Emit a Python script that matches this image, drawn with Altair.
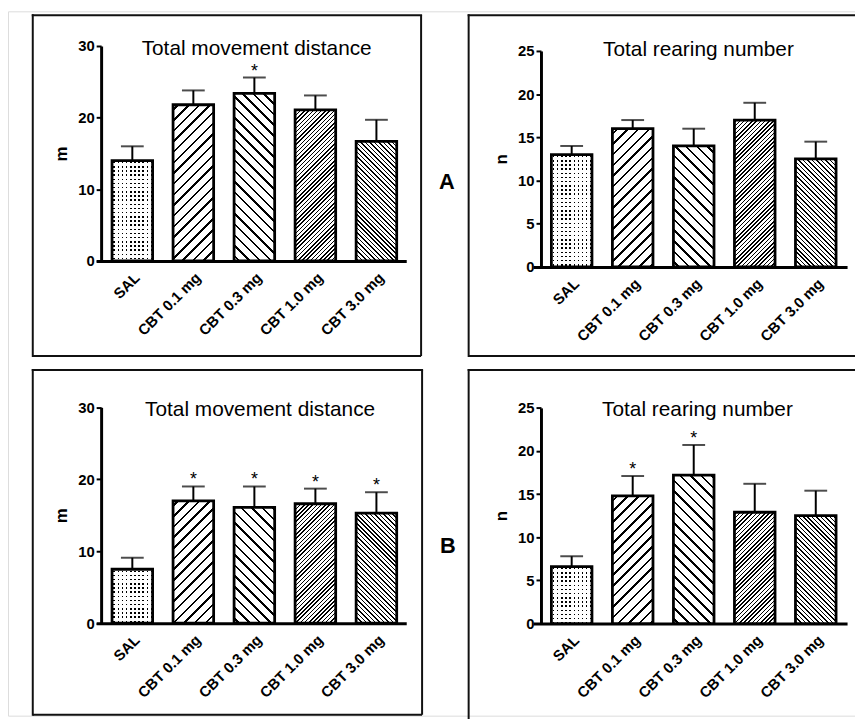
import math
import altair as alt
import pandas as pd

# ---------------- data ----------------
groups = ["SAL", "CBT 0.1 mg", "CBT 0.3 mg", "CBT 1.0 mg", "CBT 3.0 mg"]

a_dist_mean = [14.0, 21.8, 23.4, 21.1, 16.7]
a_dist_sem = [2.0, 2.0, 2.2, 2.0, 3.0]
a_dist_sig = [False, False, True, False, False]

a_rear_mean = [13.0, 16.0, 14.0, 17.0, 12.5]
a_rear_sem = [1.0, 1.0, 2.0, 2.0, 2.0]
a_rear_sig = [False, False, False, False, False]

b_dist_mean = [7.5, 17.0, 16.1, 16.6, 15.3]
b_dist_sem = [1.6, 2.0, 2.9, 2.1, 2.9]
b_dist_sig = [False, True, True, True, True]

b_rear_mean = [6.6, 14.8, 17.2, 12.9, 12.5]
b_rear_sem = [1.2, 2.3, 3.5, 3.3, 2.9]
b_rear_sig = [False, True, True, False, False]

titles = ["Total movement distance", "Total rearing number"]
y_titles = ["m", "n"]
dist_ticks = [0, 10, 20, 30]
rear_ticks = [0, 5, 10, 15, 20, 25]
letters = ["A", "B"]

# hatch style per group: (kind, period px, line px)
patterns = [("dots", 4.2, 1.5), ("/", 7.6, 1.8), ("\\", 7.6, 1.8), ("/", 3.0, 1.1), ("\\", 3.2, 1.1)]

FONT = "Liberation Sans"
PAD_INNER = 0.335
STEP = 61.6
W, H = 855, 711


def stripes(total, period, line, on, off):
    """Stops for hard-edged stripes along a gradient axis of `total` pixels."""
    dt = period / total
    lw = line / total
    stops = [{"offset": 0, "color": off}]
    n = 0
    while True:
        c = n * dt + dt / 2
        a, b = c - lw / 2, c + lw / 2
        if a >= 1:
            break
        a, b = max(a, 0), min(b, 1)
        stops += [{"offset": round(a, 5), "color": off}, {"offset": round(a, 5), "color": on},
                  {"offset": round(b, 5), "color": on}, {"offset": round(b, 5), "color": off}]
        n += 1
    stops.append({"offset": 1, "color": off})
    return stops


def hatch(w, h, kind, period, line):
    total = w + h
    k = total / (w * w + h * h)
    p = period * math.sqrt(2)
    l = line * math.sqrt(2)
    stops = stripes(total, p, l, "black", "white")
    if kind == "/":
        return {"gradient": "linear", "x1": 0, "y1": 0, "x2": w * k, "y2": h * k, "stops": stops}
    return {"gradient": "linear", "x1": 0, "y1": 1, "x2": w * k, "y2": 1 - h * k, "stops": stops}


def const_df(v):
    return pd.DataFrame({"t": [v]})


def panel(means, sems, sig, title, ytitle, ticks, ymax, box, yaxis_x, y0, ytop, r0, r1, c0,
          title_xy, letter=None, letter_xy=None, right_box=True, bottom_box=True):
    df = pd.DataFrame({"group": groups, "mean": means, "top": [m + s for m, s in zip(means, sems)],
                       "sig": sig, "star": ["*" if s else "" for s in sig]})
    bw = STEP * (1 - PAD_INNER)
    leftover = (r1 - r0) - STEP * (5 - PAD_INNER)
    po = leftover / (2 * STEP)
    align = (c0 - bw / 2 - r0) / leftover
    yscale = alt.Scale(domain=[0, ymax], range=[y0, ytop], nice=False, zero=True)
    xenc = alt.X("group:N", sort=None, title=None,
                 scale=alt.Scale(domain=groups, range=[r0, r1], paddingInner=PAD_INNER,
                                 paddingOuter=po, align=align),
                 axis=alt.Axis(orient="bottom", offset=-(H - y0), ticks=False, labelAngle=-45,
                               labelAlign="right", labelBaseline="top", labelPadding=9,
                               labelFont=FONT, labelFontWeight="bold", labelFontSize=15,
                               labelColor="black", domainColor="black", domainWidth=3, grid=False))
    yaxis = alt.Axis(orient="left", offset=-yaxis_x, values=ticks, tickSize=5, tickWidth=2,
                     tickColor="black", domainColor="black", domainWidth=3, grid=False,
                     labelFont=FONT, labelFontWeight="bold", labelFontSize=15, labelColor="black",
                     labelPadding=2, titleFont=FONT, titleFontWeight="bold", titleFontSize=17,
                     titleColor="black", titlePadding=7)
    yenc = alt.Y("mean:Q", title=ytitle, scale=yscale, axis=yaxis)
    ytop_enc = alt.Y("top:Q", title=ytitle, scale=yscale, axis=yaxis)
    base = alt.Chart(df)
    layers = []
    px_per = (y0 - ytop) / ymax
    for g, m, (kind, period, line) in zip(groups, means, patterns):
        h = m * px_per
        src = base.transform_filter(alt.datum.group == g)
        if kind == "dots":
            rows = {"gradient": "linear", "x1": 0, "y1": 0, "x2": 0, "y2": 1,
                    "stops": stripes(h, period, line, "black", "white")}
            cols = {"gradient": "linear", "x1": 0, "y1": 0, "x2": 1, "y2": 0,
                    "stops": stripes(bw, period, line, "rgba(255,255,255,0)", "white")}
            layers.append(src.mark_bar(fill=rows, strokeWidth=0).encode(x=xenc, y=yenc))
            layers.append(src.mark_bar(fill=cols, stroke="black", strokeWidth=2.8).encode(x=xenc, y=yenc))
        else:
            layers.append(src.mark_bar(fill=hatch(bw, h, kind, period, line), stroke="black",
                                       strokeWidth=2.8).encode(x=xenc, y=yenc))
    layers.append(base.mark_rule(color="black", strokeWidth=2).encode(x=xenc, y=yenc, y2="top:Q"))
    layers.append(base.mark_tick(color="black", thickness=2, size=23).encode(x=xenc, y=ytop_enc))
    layers.append(base.transform_filter(alt.datum.sig).mark_text(
        font=FONT, fontSize=18, baseline="alphabetic", dy=-1, color="black").encode(
        x=xenc, y=ytop_enc, text="star:N"))
    # panel title
    layers.append(alt.Chart(const_df(title)).mark_text(
        font=FONT, fontSize=21, baseline="alphabetic", align="center", color="black").encode(
        x=alt.value(title_xy[0]), y=alt.value(title_xy[1]), text="t:N"))
    # frame
    bx0, by0, bx1, by1 = box
    frame = [dict(x=alt.value(bx0 - 1), x2=alt.value(bx1 + 1), y=alt.value(by0)),
             dict(x=alt.value(bx0), y=alt.value(by0 - 1), y2=alt.value(by1 + 1))]
    if right_box:
        frame.append(dict(x=alt.value(bx1), y=alt.value(by0), y2=alt.value(by1)))
    if bottom_box:
        frame.append(dict(x=alt.value(bx0), x2=alt.value(bx1), y=alt.value(by1)))
    for f in frame:
        layers.append(alt.Chart(const_df(0)).mark_rule(color="#111", strokeWidth=2).encode(**f))
    if letter:
        layers.append(alt.Chart(const_df(letter)).mark_text(
            font=FONT, fontSize=22, fontWeight="bold", baseline="middle", align="center", color="black").encode(
            x=alt.value(letter_xy[0]), y=alt.value(letter_xy[1]), text="t:N"))
    return alt.layer(*layers)


# all coordinates below are layout positions (pixels inside the single drawing area)
tl = panel(a_dist_mean, a_dist_sem, a_dist_sig, titles[0], y_titles[0], dist_ticks, 30,
           (25, 4, 417, 348), 94, 252, 35, 89, 402, 125.5, (251, 44),
           letter=letters[0], letter_xy=(443, 172))
tr = panel(a_rear_mean, a_rear_sem, a_rear_sig, titles[1], y_titles[1], rear_ticks, 25,
           (465, 4, 870, 348), 538, 258, 40, 530, 847, 569, (697, 45), right_box=False)
bl = panel(b_dist_mean, b_dist_sem, b_dist_sig, titles[0], y_titles[0], dist_ticks, 30,
           (25, 362, 418, 710), 94, 617.7, 399.7, 89, 402, 125.5, (254.5, 409),
           letter=letters[1], letter_xy=(444, 540))
br = panel(b_rear_mean, b_rear_sem, b_rear_sig, titles[1], y_titles[1], rear_ticks, 25,
           (465, 362, 870, 720), 538, 618, 400.3, 530, 847, 569, (696, 409),
           right_box=False, bottom_box=False)

chart = alt.layer(tl, tr, bl, br).resolve_scale(
    x="independent", y="independent"
).resolve_axis(
    x="independent", y="independent"
).properties(
    width=W, height=H, padding=0, autosize=alt.AutoSizeParams(type="none"),
).configure_view(stroke=None).configure(background="white").configure_axisY(
    labelFont=FONT, labelFontSize=15, labelFontWeight="bold", labelColor="black",
    titleFont=FONT, titleFontSize=17, titleFontWeight="bold", titleColor="black",
).configure_axisX(
    labelFont=FONT, labelFontSize=15, labelFontWeight="bold", labelColor="black",
)

chart.save("out.html", embed_options={"renderer": "svg", "actions": False})
